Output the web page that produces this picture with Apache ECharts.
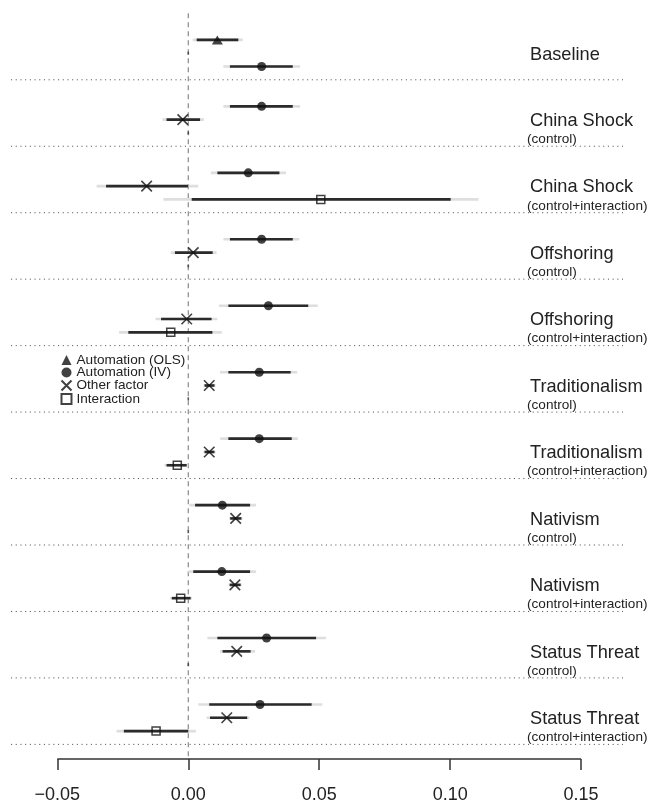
<!DOCTYPE html>
<html>
<head>
<meta charset="utf-8">
<style>
  html, body { margin: 0; padding: 0; background: #fff; }
  #chart { width: 652px; height: 804px; }
</style>
<script src="https://cdn.jsdelivr.net/npm/echarts@6/dist/echarts.min.js"></script>
</head>
<body>
<div id="chart"></div>
<script>
// Model specifications (one block each, top to bottom)
const groupNames = ['Baseline', 'China Shock', 'China Shock', 'Offshoring', 'Offshoring',
  'Traditionalism', 'Traditionalism', 'Nativism', 'Nativism', 'Status Threat', 'Status Threat'];
const groupNotes = ['', '(control)', '(control+interaction)', '(control)', '(control+interaction)',
  '(control)', '(control+interaction)', '(control)', '(control+interaction)', '(control)', '(control+interaction)'];

// Each row: [block, row in block, estimate, inner low, inner high, outer low, outer high]
const olsRows = [
  [0, 0, 0.0111, 0.0032, 0.0191, 0.0017, 0.0208]
];
const ivRows = [
  [0, 2, 0.0280, 0.0159, 0.0399, 0.0134, 0.0427],
  [1, 0, 0.0280, 0.0159, 0.0399, 0.0134, 0.0427],
  [2, 0, 0.0229, 0.0111, 0.0348, 0.0086, 0.0373],
  [3, 0, 0.0280, 0.0159, 0.0399, 0.0134, 0.0424],
  [4, 0, 0.0306, 0.0153, 0.0458, 0.0117, 0.0494],
  [5, 0, 0.0271, 0.0153, 0.0391, 0.0121, 0.0416],
  [6, 0, 0.0271, 0.0153, 0.0395, 0.0122, 0.0418],
  [7, 0, 0.0130, 0.0026, 0.0236, 0.0004, 0.0259],
  [8, 0, 0.0128, 0.0019, 0.0236, 0.0000, 0.0259],
  [9, 0, 0.0299, 0.0111, 0.0488, 0.0073, 0.0526],
  [10, 0, 0.0274, 0.0080, 0.0471, 0.0038, 0.0512]
];
const otherRows = [
  [1, 1, -0.0021, -0.0083, 0.0045, -0.0099, 0.0060],
  [2, 1, -0.0159, -0.0314, 0.0000, -0.0350, 0.0038],
  [3, 1, 0.0019, -0.0051, 0.0093, -0.0067, 0.0108],
  [4, 1, -0.0006, -0.0104, 0.0089, -0.0125, 0.0111],
  [5, 1, 0.0080, 0.0062, 0.0100, 0.0058, 0.0104],
  [6, 1, 0.0080, 0.0062, 0.0100, 0.0058, 0.0104],
  [7, 1, 0.0181, 0.0160, 0.0203, 0.0156, 0.0207],
  [8, 1, 0.0178, 0.0158, 0.0200, 0.0154, 0.0204],
  [9, 1, 0.0185, 0.0131, 0.0238, 0.0121, 0.0255],
  [10, 1, 0.0147, 0.0083, 0.0225, 0.0070, 0.0233]
];
const interactionRows = [
  [2, 2, 0.0506, 0.0013, 0.1002, -0.0095, 0.1108],
  [4, 2, -0.0067, -0.0229, 0.0092, -0.0264, 0.0128],
  [6, 2, -0.0042, -0.0083, -0.0006, -0.0091, 0.0000],
  [8, 2, -0.0029, -0.0063, 0.0009, -0.0069, 0.0014],
  [10, 2, -0.0123, -0.0246, 0.0000, -0.0274, 0.0029]
];
// Unused coefficient slots, drawn as a zero-width mark at 0: [block, row]
const emptyRows = [[0, 1], [1, 2], [3, 2], [5, 2], [7, 2], [9, 2]];

const tickValues = [-0.05, 0, 0.05, 0.10, 0.15];

// Vertical layout: 5 slots per block (3 estimate rows, separator, spacer)
const SLOTS = 5;
const slotOf = (b, r) => b * SLOTS + r;
const Y_MIN = -2, Y_MAX = 54.1;
const X_MIN = -0.0677, X_MAX = 0.166;

const FONT = '"Liberation Sans", Arial, Helvetica, sans-serif';
const INK = '#222';

const ciData = rows => rows.map(r => [slotOf(r[0], r[1]), r[3], r[4], r[5], r[6]]);
const ptData = rows => rows.map(r => [r[2], slotOf(r[0], r[1])]);

function renderCI(params, api) {
  const s = api.value(0);
  const a = api.coord([api.value(3), s]), b = api.coord([api.value(4), s]);
  const c = api.coord([api.value(1), s]), d = api.coord([api.value(2), s]);
  return {
    type: 'group',
    children: [
      { type: 'line', shape: { x1: a[0], y1: a[1], x2: b[0], y2: b[1] },
        style: { stroke: '#dedede', lineWidth: 2.6 } },
      { type: 'line', shape: { x1: c[0], y1: c[1], x2: d[0], y2: d[1] },
        style: { stroke: '#2b2b2b', lineWidth: 2.6 } }
    ]
  };
}

function ciSeries(rows) {
  return {
    type: 'custom', renderItem: renderCI, data: ciData(rows),
    encode: { x: [1, 2, 3, 4], y: 0 }, z: 2, silent: true, clip: false
  };
}

const crossPath = 'path://M0,0L10,10M10,0L0,10';

const separatorSlots = groupNames.map((_, i) => slotOf(i, 3));

const chart = echarts.init(document.getElementById('chart'), null, { renderer: 'canvas' });

chart.setOption({
  animation: false,
  backgroundColor: '#fff',
  textStyle: { fontFamily: FONT },
  grid: { left: 11, right: 29, top: 13.33, bottom: 42.67, containLabel: false },
  xAxis: {
    type: 'value', min: X_MIN, max: X_MAX, position: 'bottom',
    axisLine: { show: false, onZero: false },
    splitLine: { show: false },
    axisTick: { show: true, customValues: tickValues, length: 11, inside: false,
      lineStyle: { color: '#333', width: 1.5 } },
    axisLabel: { customValues: tickValues, margin: 27, fontSize: 18, color: INK, fontFamily: FONT,
      formatter: v => (v < 0 ? '\u2212' : '') + Math.abs(v).toFixed(2) }
  },
  yAxis: {
    type: 'value', min: Y_MIN, max: Y_MAX, inverse: true, show: false
  },
  legend: {
    orient: 'vertical', left: 59, top: 353, padding: 0,
    itemWidth: 10, itemHeight: 10, itemGap: -1.5,
    textStyle: { fontSize: 13.6, color: INK, fontFamily: FONT },
    data: [
      { name: 'Automation (OLS)', icon: 'triangle' },
      { name: 'Automation (IV)', icon: 'circle' },
      { name: 'Other factor', icon: crossPath },
      { name: 'Interaction', icon: 'rect' }
    ]
  },
  series: [
    // block separators
    {
      type: 'custom', silent: true, z: 1, clip: false,
      data: separatorSlots, encode: { y: 0 },
      renderItem: (params, api) => {
        const cs = params.coordSys;
        const y = api.coord([0, api.value(0)])[1];
        return { type: 'line', shape: { x1: cs.x, y1: y, x2: cs.x + cs.width, y2: y },
          style: { stroke: '#555', lineWidth: 1, lineDash: [1.1, 3.6] } };
      }
    },
    // zero reference line
    {
      type: 'line', silent: true, z: 1, symbol: 'none', clip: false,
      data: [[0, Y_MIN], [0, Y_MAX]],
      lineStyle: { color: '#8a8a8a', width: 1.2, type: [5, 4] }
    },
    // x axis baseline spanning the tick range
    {
      type: 'line', silent: true, z: 3, symbol: 'none', clip: false,
      data: [[tickValues[0], Y_MAX], [tickValues[tickValues.length - 1], Y_MAX]],
      lineStyle: { color: '#333', width: 1.5 }
    },
    // intervals
    ciSeries(olsRows), ciSeries(ivRows), ciSeries(otherRows), ciSeries(interactionRows),
    // empty slots
    {
      type: 'scatter', silent: true, z: 3,
      data: emptyRows.map(r => [0, slotOf(r[0], r[1])]),
      symbol: 'rect', symbolSize: [1.6, 3], itemStyle: { color: '#333' }
    },
    // point estimates
    {
      name: 'Automation (OLS)', type: 'scatter', z: 4, data: ptData(olsRows),
      symbol: 'triangle', symbolSize: [11, 9], itemStyle: { color: '#111' }
    },
    {
      name: 'Automation (IV)', type: 'scatter', z: 4, data: ptData(ivRows),
      symbol: 'circle', symbolSize: 9, itemStyle: { color: '#111' }
    },
    {
      name: 'Other factor', type: 'scatter', z: 4, data: ptData(otherRows),
      symbol: crossPath, symbolSize: 10.5,
      itemStyle: { color: 'none', borderColor: '#111', borderWidth: 1.6 }
    },
    {
      name: 'Interaction', type: 'scatter', z: 4, data: ptData(interactionRows),
      symbol: 'rect', symbolSize: 8,
      itemStyle: { color: 'none', borderColor: '#111', borderWidth: 1.5 }
    },
    // block labels
    {
      type: 'custom', silent: true, z: 5, clip: false,
      data: groupNames.map((n, i) => [i]),
      encode: { y: 0 },
      renderItem: (params, api) => {
        const i = api.value(0);
        const yMain = api.coord([0, slotOf(i, 1.1)])[1];
        const ySub = api.coord([0, slotOf(i, 2.48)])[1];
        const children = [{
          type: 'text', x: 530, y: yMain,
          style: { text: groupNames[i], fill: INK, font: '18.2px ' + FONT,
            textAlign: 'left', textVerticalAlign: 'middle' }
        }];
        if (groupNotes[i]) {
          children.push({
            type: 'text', x: 527, y: ySub,
            style: { text: groupNotes[i], fill: INK, font: '13.6px ' + FONT,
              textAlign: 'left', textVerticalAlign: 'middle' }
          });
        }
        return { type: 'group', children };
      }
    }
  ]
});
</script>
</body>
</html>
